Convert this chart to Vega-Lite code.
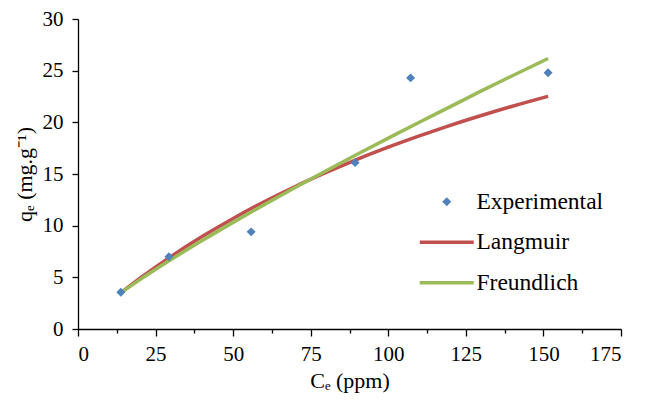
{
  "$schema": "https://vega.github.io/schema/vega-lite/v6.json",
  "width": 543,
  "height": 310,
  "autosize": {"type": "none"},
  "padding": {"left": 78, "top": 19, "right": 31, "bottom": 76},
  "background": "white",
  "config": {
    "view": {"stroke": null},
    "font": "'Liberation Serif', 'Times New Roman', Times, serif",
    "axis": {"grid": false, "domainColor": "black", "tickColor": "black", "labelColor": "black", "titleColor": "black", "labelFont": "'Liberation Serif', 'Times New Roman', Times, serif", "titleFont": "'Liberation Serif', 'Times New Roman', Times, serif", "labelFontSize": 21, "titleFontSize": 22, "titleFontWeight": "normal", "tickSize": 6, "domainWidth": 1.3, "tickWidth": 1.3}
  },
  "datasets": {
    "exp": [
      {"series": "Experimental", "C": 13.8, "q": 3.55},
      {"series": "Experimental", "C": 29.3, "q": 7.0},
      {"series": "Experimental", "C": 55.8, "q": 9.4},
      {"series": "Experimental", "C": 89.3, "q": 16.1},
      {"series": "Experimental", "C": 107.2, "q": 24.3},
      {"series": "Experimental", "C": 151.5, "q": 24.8}
    ],
    "fit": [
      {"series": "Langmuir", "C": 13.8, "q": 3.5},
      {"series": "Langmuir", "C": 20, "q": 4.92},
      {"series": "Langmuir", "C": 30, "q": 7.03},
      {"series": "Langmuir", "C": 40, "q": 8.95},
      {"series": "Langmuir", "C": 50, "q": 10.7},
      {"series": "Langmuir", "C": 60, "q": 12.31},
      {"series": "Langmuir", "C": 70, "q": 13.79},
      {"series": "Langmuir", "C": 80, "q": 15.15},
      {"series": "Langmuir", "C": 90, "q": 16.42},
      {"series": "Langmuir", "C": 100, "q": 17.59},
      {"series": "Langmuir", "C": 110, "q": 18.68},
      {"series": "Langmuir", "C": 120, "q": 19.71},
      {"series": "Langmuir", "C": 130, "q": 20.66},
      {"series": "Langmuir", "C": 140, "q": 21.56},
      {"series": "Langmuir", "C": 151.5, "q": 22.52},
      {"series": "Freundlich", "C": 13.8, "q": 3.5},
      {"series": "Freundlich", "C": 20, "q": 4.78},
      {"series": "Freundlich", "C": 30, "q": 6.72},
      {"series": "Freundlich", "C": 40, "q": 8.56},
      {"series": "Freundlich", "C": 50, "q": 10.32},
      {"series": "Freundlich", "C": 60, "q": 12.03},
      {"series": "Freundlich", "C": 70, "q": 13.69},
      {"series": "Freundlich", "C": 80, "q": 15.32},
      {"series": "Freundlich", "C": 90, "q": 16.91},
      {"series": "Freundlich", "C": 100, "q": 18.47},
      {"series": "Freundlich", "C": 110, "q": 20.01},
      {"series": "Freundlich", "C": 120, "q": 21.52},
      {"series": "Freundlich", "C": 130, "q": 23.04},
      {"series": "Freundlich", "C": 140, "q": 24.51},
      {"series": "Freundlich", "C": 151.5, "q": 26.18}
    ]
  },
  "encoding": {
    "x": {"field": "C", "type": "quantitative", "scale": {"domain": [0, 175], "nice": false, "zero": false},
      "axis": {"title": "Cₑ (ppm)", "values": [0, 12.5, 25, 37.5, 50, 62.5, 75, 87.5, 100, 112.5, 125, 137.5, 150, 162.5, 175],
        "labelExpr": "datum.value % 25 === 0 ? datum.label : ''",
        "tickSize": {"condition": {"test": "datum.value % 25 !== 0", "value": 4}, "value": 7},
        "labelPadding": 7, "titlePadding": 6}},
    "y": {"field": "q", "type": "quantitative", "scale": {"domain": [0, 30], "nice": false},
      "axis": {"title": "qₑ (mg.g⁻¹)", "values": [0, 5, 10, 15, 20, 25, 30], "labelPadding": 9, "titlePadding": 6}},
    "color": {"field": "series", "type": "nominal",
      "scale": {"domain": ["Experimental", "Langmuir", "Freundlich"], "range": ["#4F81BD", "#C0504D", "#9BBB59"]},
      "legend": {"title": null, "orient": "none", "legendX": 357, "legendY": 171, "symbolSize": 2916, "symbolStrokeWidth": 3.5, "labelFontSize": 23.5, "labelFont": "'Liberation Serif', 'Times New Roman', Times, serif", "labelColor": "black", "labelOffset": 18, "rowPadding": 15.5, "padding": 0,
        "encode": {"symbols": {"update": {
          "shape": {"signal": "datum.value === 'Experimental' ? 'diamond' : 'stroke'"},
          "size": {"signal": "datum.value === 'Experimental' ? 80 : 2916"},
          "fill": {"signal": "datum.value === 'Experimental' ? '#4F81BD' : 'transparent'"},
          "strokeWidth": {"signal": "datum.value === 'Experimental' ? 0 : 3.5"},
          "opacity": {"value": 1}
        }}}}}
  },
  "layer": [
    {"data": {"name": "fit"}, "mark": {"type": "line", "strokeWidth": 3.5, "interpolate": "monotone"},
      "encoding": {"detail": {"field": "series"}}},
    {"data": {"name": "exp"}, "mark": {"type": "point", "shape": "diamond", "filled": true, "size": 80, "opacity": 1}}
  ]
}
